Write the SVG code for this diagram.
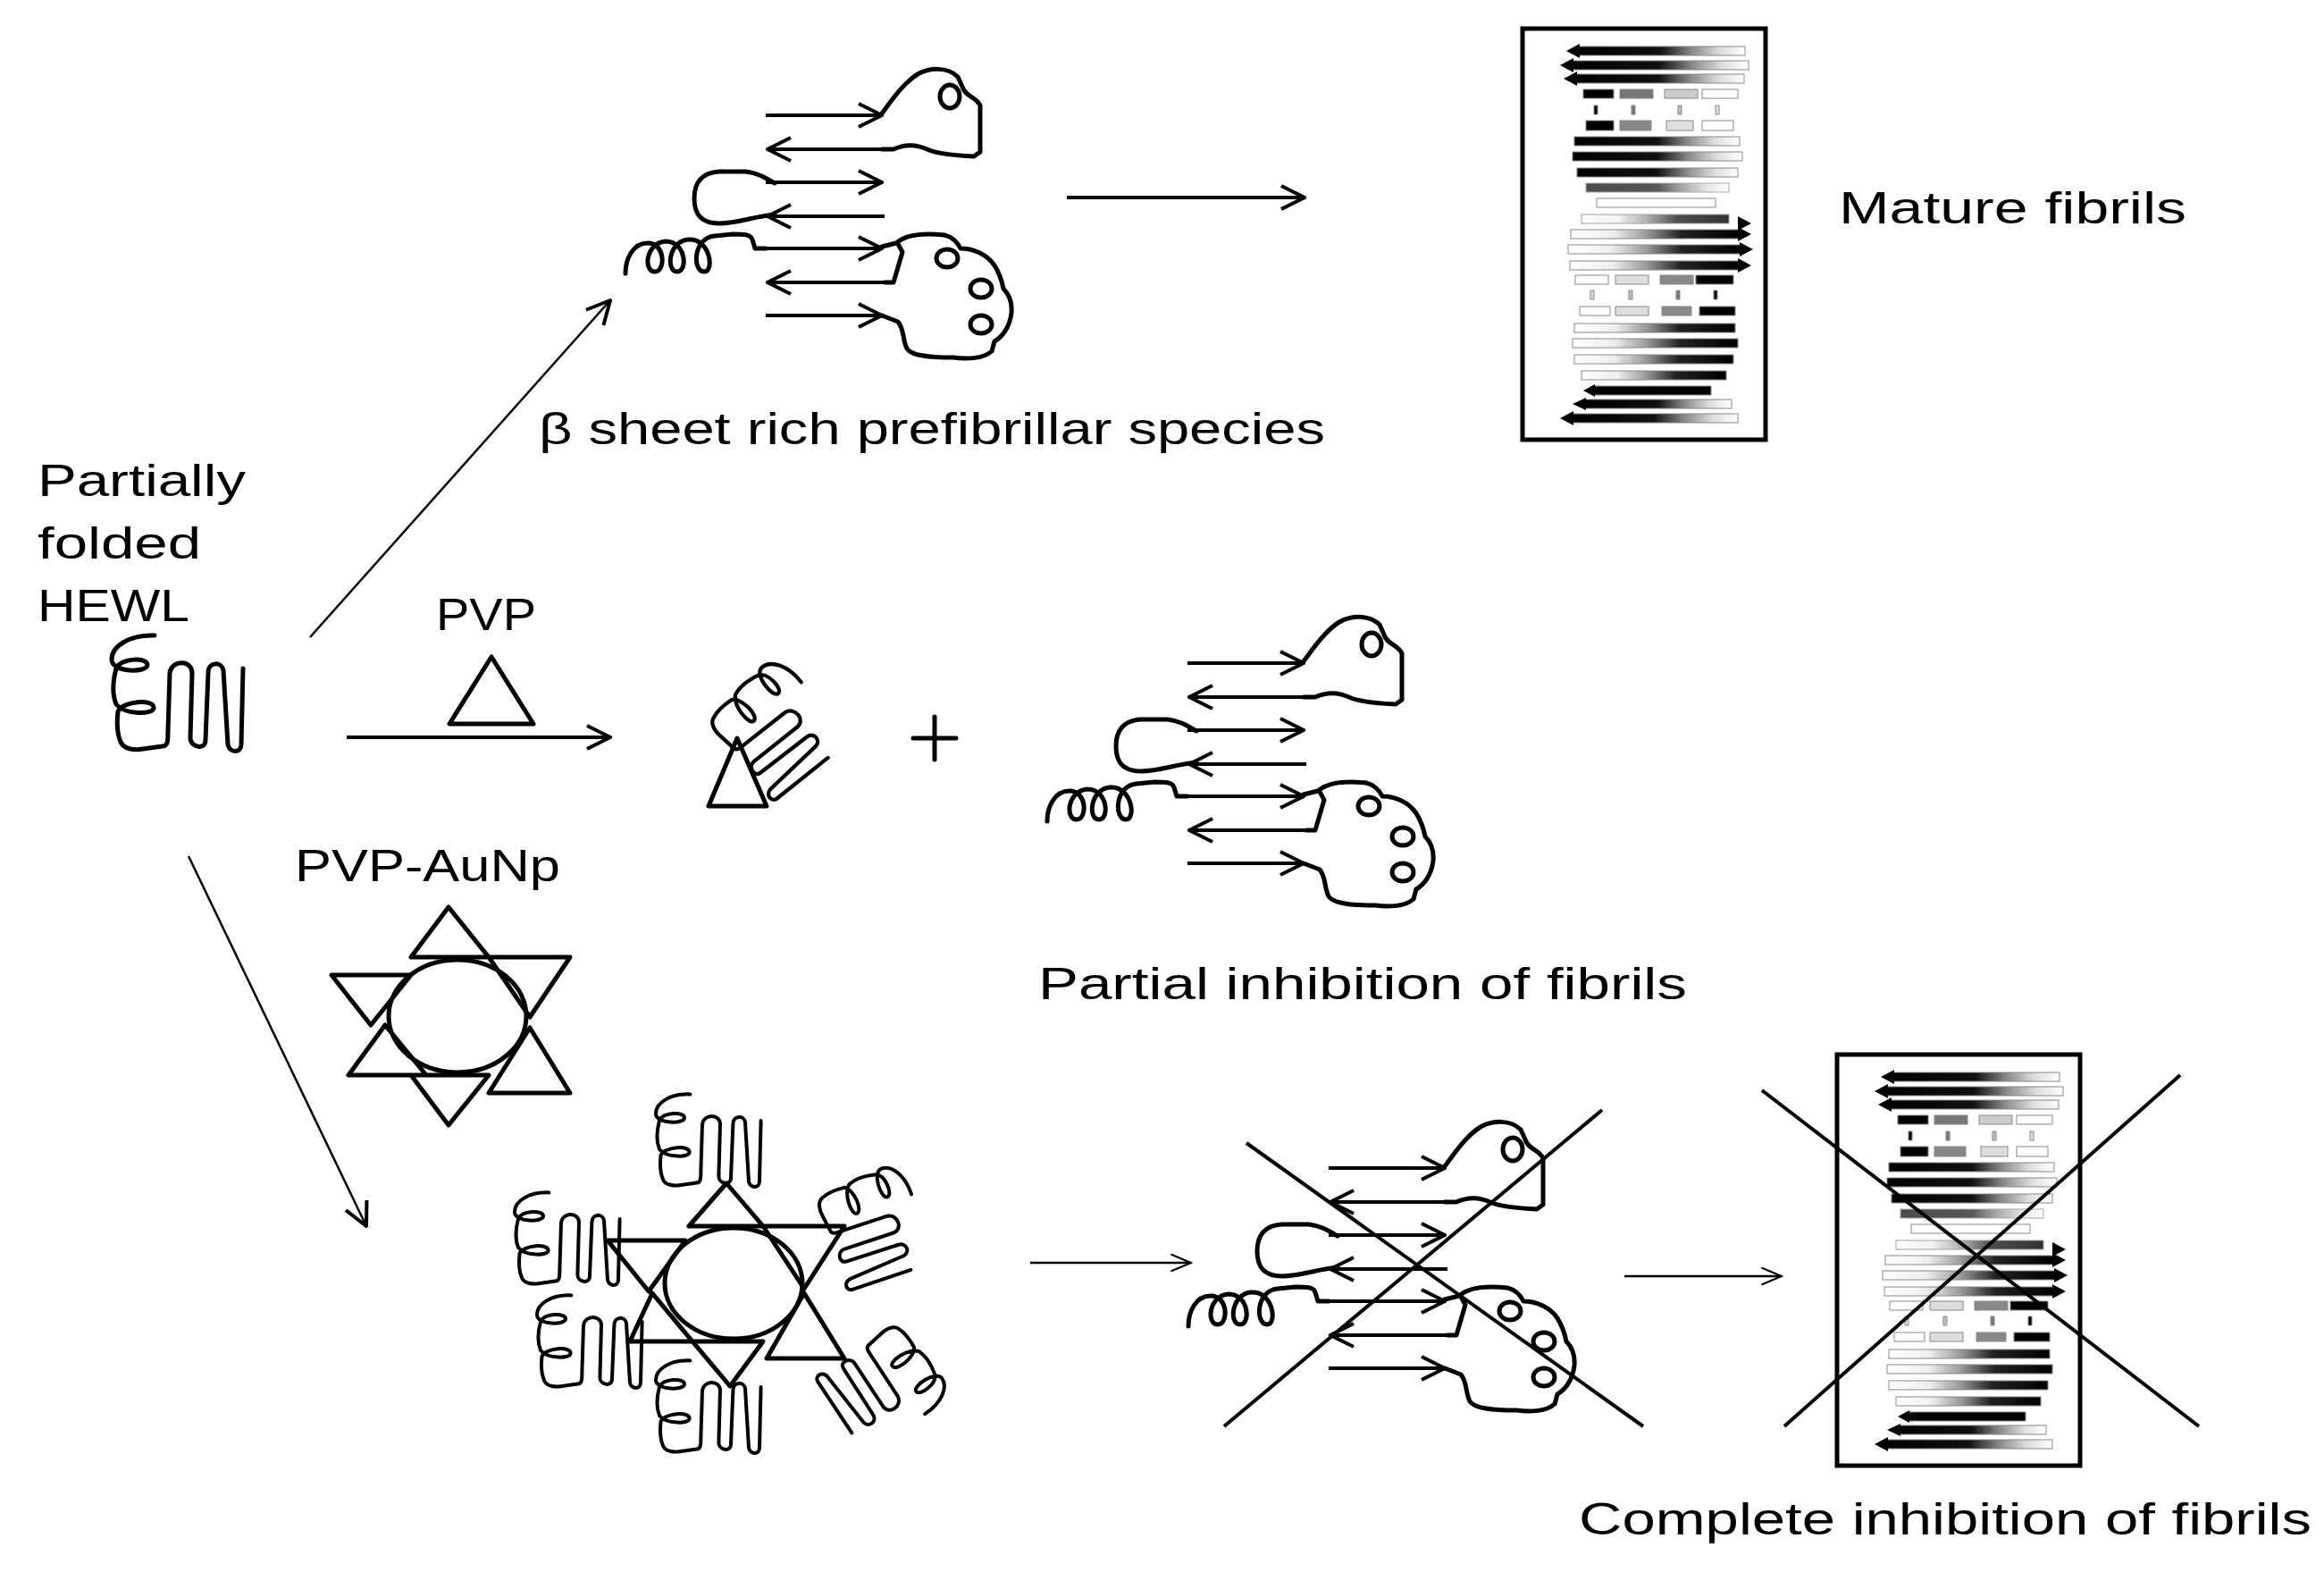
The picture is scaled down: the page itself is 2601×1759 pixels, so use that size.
<svg xmlns="http://www.w3.org/2000/svg" xmlns:xlink="http://www.w3.org/1999/xlink" width="2601" height="1759" viewBox="0 0 2601 1759">
<style>
.ln{fill:none;stroke:#000;stroke-width:5;stroke-linecap:round;stroke-linejoin:round}
.thin{fill:none;stroke:#000;stroke-width:2.5}
.ar{fill:none;stroke:#000;stroke-width:4}
.tx{font-family:"Liberation Sans",Arial,sans-serif;font-size:50px;fill:#000}
.bar{stroke:#888;stroke-width:1}
</style>
<defs>
<marker id="open" viewBox="0 0 30 30" refX="28" refY="15" markerWidth="30" markerHeight="30" markerUnits="userSpaceOnUse" orient="auto"><path d="M2,2 L28,15 L2,28" fill="none" stroke="#000" stroke-width="4"/></marker>
<marker id="openS" viewBox="0 0 30 30" refX="28" refY="15" markerWidth="26" markerHeight="26" markerUnits="userSpaceOnUse" orient="auto"><path d="M2,4 L28,15 L2,26" fill="none" stroke="#000" stroke-width="2.5"/></marker>
<linearGradient id="gL" x1="0" x2="1"><stop offset="0" stop-color="#000"/><stop offset="0.5" stop-color="#111"/><stop offset="0.68" stop-color="#888"/><stop offset="0.85" stop-color="#ddd"/><stop offset="1" stop-color="#fff"/></linearGradient>
<linearGradient id="gR" x1="1" x2="0"><stop offset="0" stop-color="#000"/><stop offset="0.35" stop-color="#222"/><stop offset="0.55" stop-color="#999"/><stop offset="0.75" stop-color="#eee"/><stop offset="1" stop-color="#fff"/></linearGradient>
<g id="hewl">
<path class="ln" d="M53,3 C25,2 5,15 5,30 C5,45 45,45 45,36 C45,27 15,28 10,40 C6,55 6,70 10,80 C20,92 52,92 52,84 C52,74 18,76 12,88 C10,105 12,115 15,122 C18,130 30,132 40,130 L62,127 C68,127 68,120 68,110 L70,45 C72,30 95,30 95,45 L93,118 C93,128 110,132 110,120 L113,45 C113,32 128,32 130,42 L135,125 C137,135 150,135 150,125 L152,40"/>
</g>
<g id="prefib">
<g class="ar">
<line x1="857" y1="129" x2="987" y2="129" marker-end="url(#open)"/>
<line x1="987" y1="167" x2="859" y2="167" marker-end="url(#open)"/>
<line x1="857" y1="204" x2="987" y2="204" marker-end="url(#open)"/>
<line x1="990" y1="242" x2="859" y2="242" marker-end="url(#open)"/>
<line x1="857" y1="278" x2="987" y2="278" marker-end="url(#open)"/>
<line x1="990" y1="316" x2="859" y2="316" marker-end="url(#open)"/>
<line x1="857" y1="353" x2="987" y2="353" marker-end="url(#open)"/>
</g>
<path class="ln" d="M987,127 C998,112 1012,92 1027,83 C1040,76 1060,74 1072,86 L1077,97 C1080,108 1092,108 1097,118 L1097,170 L1090,175 C1070,174 1050,172 1040,168 C1028,162 1015,160 1000,167 L987,167"/>
<ellipse cx="1063" cy="108" rx="11" ry="13" class="ln"/>
<path class="ln" d="M867,205 C858,200 850,194 835,192 L805,192 C785,193 777,205 777,222 C777,240 785,250 805,250 C825,250 845,242 867,240"/>
<path class="ln" d="M700,306 C700,290 708,272 725,272 C745,272 745,304 733,304 C720,304 722,272 745,270 C768,270 770,304 758,304 C745,304 748,270 770,268 C795,266 800,304 788,304 C775,304 775,266 800,264 L820,262 C832,262 840,262 842,268 L845,278 L857,278"/>
<path class="ln" d="M987,276 L1003,272 C1012,264 1030,260 1057,263 C1068,266 1072,272 1075,278 C1090,278 1105,285 1113,297 C1120,308 1122,318 1123,323 C1130,330 1133,338 1132,350 C1130,368 1120,378 1113,382 L1110,393 C1100,402 1080,402 1067,400 C1040,400 1020,398 1015,390 C1010,380 1012,368 1005,360 L987,353"/>
<path class="ln" d="M990,316 L1000,316 L1010,282 L1005,273"/>
<ellipse cx="1060" cy="289" rx="12" ry="10" class="ln"/>
<ellipse cx="1098" cy="323" rx="12" ry="10" class="ln"/>
<ellipse cx="1098" cy="363" rx="12" ry="10" class="ln"/>
</g>
<g id="fibril">
<g class="bar">
<rect x="1765" y="52" width="188" height="10" fill="url(#gL)"/>
<rect x="1758" y="68" width="199" height="10" fill="url(#gL)"/>
<rect x="1762" y="83" width="190" height="10" fill="url(#gL)"/>
<rect x="1772" y="100" width="34" height="10" fill="#000"/><rect x="1813" y="100" width="37" height="10" fill="#777"/><rect x="1863" y="100" width="37" height="10" fill="#ccc"/><rect x="1905" y="100" width="40" height="10" fill="#fff"/>
<rect x="1784" y="118" width="4" height="10" fill="#000"/><rect x="1826" y="118" width="4" height="10" fill="#777"/><rect x="1878" y="118" width="4" height="10" fill="#bbb"/><rect x="1920" y="118" width="4" height="10" fill="#ddd"/>
<rect x="1775" y="135" width="31" height="11" fill="#000"/><rect x="1813" y="135" width="35" height="11" fill="#888"/><rect x="1865" y="135" width="30" height="11" fill="#ddd"/><rect x="1905" y="135" width="35" height="11" fill="#fff"/>
<rect x="1762" y="153" width="185" height="10" fill="url(#gL)"/>
<rect x="1760" y="170" width="190" height="10" fill="url(#gL)"/>
<rect x="1765" y="188" width="180" height="10" fill="url(#gL)"/>
<rect x="1775" y="205" width="160" height="10" fill="url(#gL)" opacity="0.7"/>
<rect x="1787" y="222" width="133" height="10" fill="#fff"/>
<rect x="1770" y="240" width="165" height="10" fill="url(#gR)" opacity="0.8"/>
<rect x="1758" y="257" width="190" height="10" fill="url(#gR)"/>
<rect x="1755" y="274" width="195" height="10" fill="url(#gR)"/>
<rect x="1757" y="292" width="191" height="10" fill="url(#gR)"/>
<rect x="1763" y="308" width="37" height="10" fill="#fff"/><rect x="1808" y="308" width="37" height="10" fill="#ddd"/><rect x="1858" y="308" width="37" height="10" fill="#888"/><rect x="1898" y="308" width="42" height="10" fill="#000"/>
<rect x="1780" y="325" width="4" height="10" fill="#ddd"/><rect x="1823" y="325" width="4" height="10" fill="#bbb"/><rect x="1876" y="325" width="4" height="10" fill="#777"/><rect x="1918" y="325" width="4" height="10" fill="#000"/>
<rect x="1768" y="343" width="34" height="10" fill="#fff"/><rect x="1808" y="343" width="37" height="10" fill="#ddd"/><rect x="1860" y="343" width="33" height="10" fill="#888"/><rect x="1902" y="343" width="40" height="10" fill="#000"/>
<rect x="1762" y="362" width="180" height="10" fill="url(#gR)"/>
<rect x="1760" y="379" width="185" height="10" fill="url(#gR)"/>
<rect x="1762" y="397" width="178" height="10" fill="url(#gR)"/>
<rect x="1770" y="415" width="162" height="10" fill="url(#gR)"/>
<rect x="1782" y="432" width="133" height="10" fill="#000"/>
<rect x="1772" y="447" width="166" height="10" fill="url(#gL)"/>
<rect x="1758" y="463" width="187" height="10" fill="url(#gL)"/>
</g>
<g fill="#000">
<path d="M1753,57 L1768,49 L1768,65Z"/><path d="M1746,73 L1761,65 L1761,81Z"/><path d="M1750,88 L1765,80 L1765,96Z"/>
<path d="M1960,250 L1945,242 L1945,258Z"/><path d="M1960,262 L1945,254 L1945,270Z"/><path d="M1962,279 L1947,271 L1947,287Z"/><path d="M1960,297 L1945,289 L1945,305Z"/>
<path d="M1772,437 L1785,430 L1785,444Z"/><path d="M1760,452 L1775,445 L1775,459Z"/><path d="M1746,468 L1761,460 L1761,476Z"/>
</g>
<rect x="1704" y="32" width="272" height="460" fill="none" stroke="#000" stroke-width="5"/>
</g>
</defs>

<g id="connectors">
<line class="thin" x1="347" y1="713" x2="683" y2="336" stroke-width="3.5" marker-end="url(#open)"/>
<line class="ar" x1="1194" y1="221" x2="1460" y2="221" marker-end="url(#open)"/>
<line class="ar" x1="388" y1="825" x2="683" y2="825" marker-end="url(#open)"/>
<line class="thin" x1="211" y1="958" x2="410" y2="1372" stroke-width="3.5" marker-end="url(#open)"/>
<line class="thin" x1="1153" y1="1413" x2="1333" y2="1413" marker-end="url(#openS)"/>
<line class="thin" x1="1818" y1="1428" x2="1994" y2="1428" marker-end="url(#openS)"/>
</g>

<g id="hewl-start"><use xlink:href="#hewl" href="#hewl" transform="translate(120,708)"/></g>
<g id="label-hewl"><text class="tx" x="42" y="555" textLength="233" lengthAdjust="spacingAndGlyphs">Partially</text><text class="tx" x="42" y="625" textLength="183" lengthAdjust="spacingAndGlyphs">folded</text><text class="tx" x="42" y="695" textLength="170" lengthAdjust="spacingAndGlyphs">HEWL</text></g>

<g id="prefib-top"><use xlink:href="#prefib" href="#prefib"/><text class="tx" x="603" y="497" textLength="880" lengthAdjust="spacingAndGlyphs">β sheet rich prefibrillar species</text></g>

<g id="mature"><use xlink:href="#fibril" href="#fibril"/><text class="tx" x="2058" y="250" textLength="389" lengthAdjust="spacingAndGlyphs">Mature fibrils</text></g>

<g id="pvp"><text class="tx" x="488" y="705" textLength="112" lengthAdjust="spacingAndGlyphs">PVP</text><path class="ln" d="M550,735 L503,810 L597,810Z"/></g>

<g id="pvp-hewl"><use xlink:href="#hewl" href="#hewl" transform="translate(868,815) rotate(50) scale(0.85) translate(-78,-68)"/><path class="ln" d="M825,826 L793,902 L858,902Z"/></g>

<g id="plus"><path class="ln" d="M1046,802 L1046,850 M1022,826 L1070,826"/></g>

<g id="prefib-mid"><use xlink:href="#prefib" href="#prefib" transform="translate(472,613)"/><text class="tx" x="1162" y="1118" textLength="726" lengthAdjust="spacingAndGlyphs">Partial inhibition of fibrils</text></g>

<g id="pvp-aunp"><text class="tx" x="330" y="986" textLength="297" lengthAdjust="spacingAndGlyphs">PVP-AuNp</text>
<path class="ln" d="M502,1015 L460,1071 L547,1071Z M547,1071 L638,1071 L593,1138Z M371,1091 L460,1091 L415,1147Z M431,1147 L390,1203 L477,1203Z M460,1203 L547,1203 L502,1259Z M547,1223 L638,1223 L593,1150Z"/>
<ellipse class="ln" cx="512" cy="1137" rx="77" ry="63"/></g>

<g id="complex">
<use xlink:href="#hewl" href="#hewl" transform="translate(730,1222) scale(0.8)"/>
<use xlink:href="#hewl" href="#hewl" transform="translate(572,1332) scale(0.8)"/>
<use xlink:href="#hewl" href="#hewl" transform="translate(597,1447) scale(0.8)"/>
<use xlink:href="#hewl" href="#hewl" transform="translate(730,1520) scale(0.8)"/>
<use xlink:href="#hewl" href="#hewl" transform="translate(978,1373) rotate(70) scale(0.8) translate(-78,-68)"/>
<use xlink:href="#hewl" href="#hewl" transform="translate(989,1551) rotate(145) scale(0.8) translate(-78,-68)"/>
<path class="ln" d="M813,1324 L771,1372 L854,1372Z M854,1372 L945,1372 L900,1442Z M680,1388 L767,1388 L726,1445Z M730,1447 L705,1501 L775,1501Z M775,1501 L854,1501 L817,1551Z M900,1447 L858,1520 L945,1520Z"/>
<ellipse class="ln" cx="821" cy="1436" rx="77" ry="62"/>
</g>

<g id="prefib-crossed"><use xlink:href="#prefib" href="#prefib" transform="translate(630,1178)"/>
<path class="ar" d="M1395,1279 L1839,1596 M1370,1596 L1793,1242"/></g>

<g id="fibril-crossed"><use xlink:href="#fibril" href="#fibril" transform="translate(352,1148)"/>
<path class="ar" d="M1972,1220 L2461,1596 M1997,1596 L2440,1203"/>
<text class="tx" x="1767" y="1717" textLength="820" lengthAdjust="spacingAndGlyphs">Complete inhibition of fibrils</text></g>
</svg>
